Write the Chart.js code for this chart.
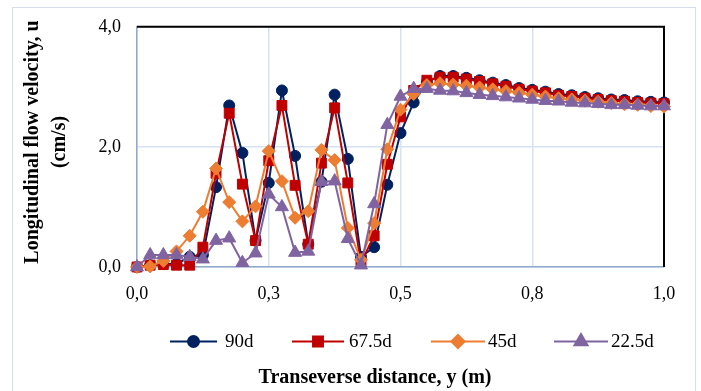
<!DOCTYPE html>
<html><head><meta charset="utf-8">
<script src="https://cdn.jsdelivr.net/npm/chart.js@4.4.1/dist/chart.umd.min.js"></script>
<style>html,body{margin:0;padding:0;background:#fff}#wrap{width:701px;height:391px;position:relative}</style>
</head><body><div id="wrap"><canvas id="c" width="701" height="391"></canvas></div>
<script>
// Transverse positions y (m)
const yPositions = [0.000,0.025,0.050,0.075,0.100,0.125,0.150,0.175,0.200,0.225,
  0.250,0.275,0.300,0.325,0.350,0.375,0.400,0.425,0.450,0.475,
  0.500,0.525,0.550,0.575,0.600,0.625,0.650,0.675,0.700,0.725,
  0.750,0.775,0.800,0.825,0.850,0.875,0.900,0.925,0.950,0.975,1.000];
// Longitudinal flow velocity u (cm/s) per series
const u90 = [0.00,0.03,0.05,0.05,0.17,0.20,1.33,2.69,1.90,0.44,
  1.40,2.94,1.85,0.38,1.42,2.87,1.80,0.17,0.33,1.37,
  2.23,2.74,3.08,3.18,3.18,3.15,3.11,3.07,3.03,2.98,
  2.95,2.92,2.88,2.86,2.83,2.81,2.79,2.78,2.76,2.75,2.74];
const u675 = [0.00,0.03,0.04,0.03,0.03,0.33,1.56,2.56,1.38,0.44,
  1.77,2.69,1.36,0.38,1.73,2.65,1.40,0.07,0.52,1.71,
  2.50,2.94,3.11,3.16,3.16,3.13,3.09,3.05,3.01,2.96,
  2.93,2.90,2.86,2.84,2.81,2.79,2.77,2.76,2.74,2.73,2.72];
const u45 = [0.00,0.01,0.10,0.26,0.52,0.92,1.64,1.08,0.76,1.01,
  1.93,1.43,0.82,0.93,1.95,1.78,0.65,0.12,0.73,1.96,
  2.62,2.88,3.03,3.06,3.04,3.02,2.99,2.96,2.93,2.90,
  2.87,2.84,2.81,2.79,2.77,2.75,2.73,2.71,2.70,2.68,2.67];
const u225 = [0.00,0.20,0.20,0.20,0.17,0.13,0.44,0.48,0.07,0.23,
  1.21,1.00,0.24,0.26,1.42,1.43,0.47,0.03,1.05,2.37,
  2.84,2.97,2.97,2.94,2.93,2.90,2.87,2.85,2.83,2.81,
  2.79,2.77,2.76,2.74,2.73,2.72,2.70,2.70,2.69,2.68,2.68];
const seriesNames = ['90d','67.5d','45d','22.5d'];
const xTickValues = [0,0.25,0.5,0.75,1.0];
const yTickValues = [0,2,4];

const serif = '"Liberation Serif","Times New Roman",serif';
const styles = [
  {color:'#002060', style:'circle', r:5.5},
  {color:'#C00000', style:'rect', r:7},
  {color:'#ED7D31', style:'rectRot', r:6.5},
  {color:'#8064A2', style:'triangle', r:7.5}
];
const allSeries = [u90,u675,u45,u225];
const datasets = allSeries.map((arr,k)=>({
  label: seriesNames[k],
  data: arr.map((v,i)=>({x:yPositions[i], y:v})),
  borderColor: styles[k].color,
  backgroundColor: styles[k].color,
  pointBackgroundColor: styles[k].color,
  pointBorderColor: styles[k].color,
  pointStyle: styles[k].style,
  pointRadius: styles[k].r,
  pointBorderWidth: 1,
  borderWidth: 2,
  tension: 0,
  clip: false,
  order: 4-k
}));

const fmt = v => Number(v).toFixed(1).replace('.', ',');

const decor = {
  id:'decor',
  beforeDraw(chart){
    const c = chart.ctx;
    c.save();
    c.fillStyle='#fff'; c.fillRect(0,0,chart.width,chart.height);
    c.strokeStyle='#D6DEEA'; c.lineWidth=1;
    c.strokeRect(12.5,7.5,683,420);
    c.restore();
  },
  beforeDatasetsDraw(chart){
    const c = chart.ctx, a = chart.chartArea;
    c.save();
    c.strokeStyle='#000'; c.lineWidth=2;
    c.beginPath();
    c.moveTo(a.left, a.top); c.lineTo(a.right, a.top); c.lineTo(a.right, a.bottom);
    c.stroke();
    c.restore();
  },
  afterDraw(chart){
    const c = chart.ctx;
    c.save();
    // axis titles
    c.fillStyle='#000';
    c.font = 'bold 20px '+serif;
    c.textAlign='center'; c.textBaseline='middle';
    c.fillText('Transeverse distance, y (m)', 375, 378);
    c.save();
    c.translate(33,142); c.rotate(-Math.PI/2);
    c.fillText('Longitudinal flow velocity, u', 0, 0);
    c.restore();
    c.save();
    c.translate(60,142); c.rotate(-Math.PI/2);
    c.fillText('(cm/s)', 0, 0);
    c.restore();
    // legend
    const items = [{x1:170,x2:217,t:225},{x1:292,x2:344,t:349},{x1:431,x2:485,t:488},{x1:554,x2:608,t:611}];
    const ly = 341.5;
    c.font = '19px '+serif;
    c.textAlign='left';
    items.forEach((it,k)=>{
      const s = styles[k];
      c.strokeStyle = s.color; c.lineWidth=2;
      c.beginPath(); c.moveTo(it.x1, ly); c.lineTo(it.x2, ly); c.stroke();
      c.fillStyle = s.color;
      Chart.helpers.drawPoint(c, {pointStyle:s.style, radius:s.r, borderWidth:1, rotation:0}, (it.x1+it.x2)/2, ly);
      c.fill();
      c.fillStyle='#000';
      c.fillText(seriesNames[k], it.t, ly+1);
    });
    c.restore();
  }
};

new Chart(document.getElementById('c'), {
  type:'line',
  data:{datasets},
  options:{
    responsive:false,
    animation:false,
    devicePixelRatio:1,
    layout:{padding:{left:0,right:37,top:18,bottom:0}},
    plugins:{legend:{display:false}, tooltip:{enabled:false}},
    scales:{
      x:{type:'linear', min:0, max:1,
        afterBuildTicks(s){ s.ticks = xTickValues.map(v=>({value:v})); },
        afterFit(s){ s.height = 124; },
        ticks:{callback:fmt, font:{family:serif, size:18}, color:'#000', padding:16, maxRotation:0},
        grid:{color:'#D6E2F3', lineWidth:1.5, drawTicks:false},
        border:{color:'#8EA9C9', width:1.5}
      },
      y:{type:'linear', min:0, max:4,
        afterBuildTicks(s){ s.ticks = yTickValues.map(v=>({value:v})); },
        afterFit(s){ s.width = 137; },
        ticks:{callback:fmt, font:{family:serif, size:18}, color:'#000', padding:16},
        grid:{color:'#D6E2F3', lineWidth:1.5, drawTicks:false},
        border:{color:'#8EA9C9', width:1.5}
      }
    }
  },
  plugins:[decor]
});
</script>
</body></html>
